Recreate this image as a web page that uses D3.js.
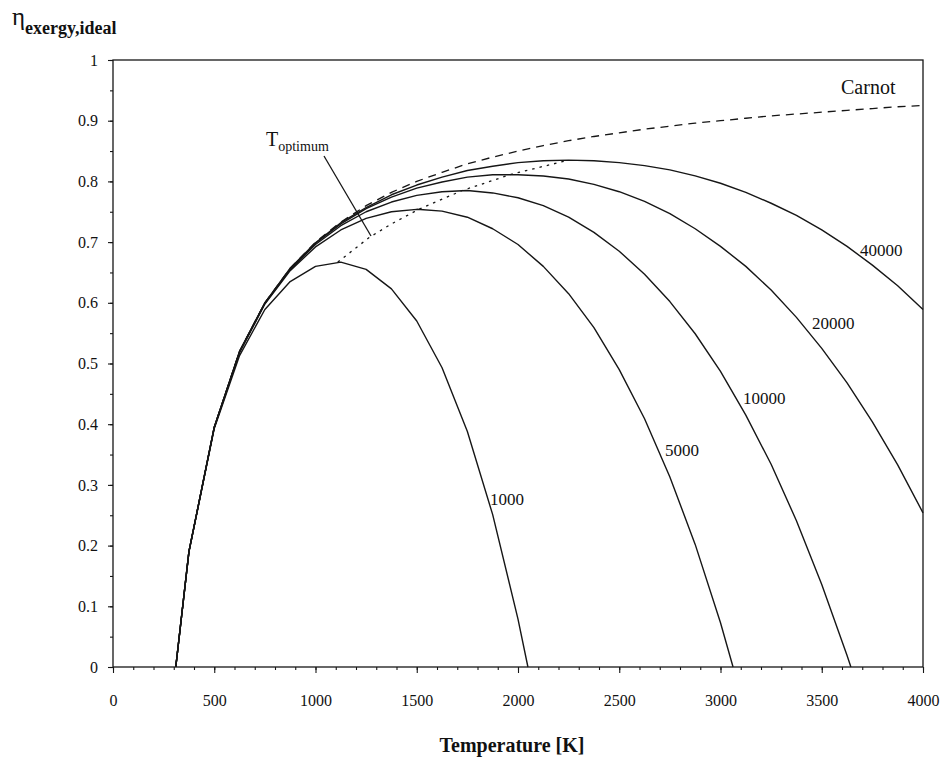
<!DOCTYPE html>
<html>
<head>
<meta charset="utf-8">
<script src="https://cdn.jsdelivr.net/npm/d3@7"></script>
<style>
  html, body { margin: 0; padding: 0; background: #fff; }
  svg { display: block; }
  text { font-family: "Liberation Serif", "Times New Roman", serif; fill: #111; }
</style>
</head>
<body>
<svg id="chart" width="942" height="765"></svg>
<script>
// Absorber temperature grid [K]
const tempsK = [310, 375, 500, 625, 750, 875, 1000, 1125, 1250, 1375, 1500, 1625, 1750, 1875,
  2000, 2125, 2250, 2375, 2500, 2625, 2750, 2875, 3000, 3125, 3250, 3375, 3500, 3625, 3750, 3875, 4000];

// Carnot limit
const etaCarnot = [0, 0.19, 0.395, 0.52, 0.6, 0.657, 0.7, 0.733, 0.76, 0.782, 0.8, 0.815, 0.829, 0.84,
  0.85, 0.859, 0.867, 0.874, 0.88, 0.886, 0.891, 0.896, 0.9, 0.904, 0.908, 0.911, 0.914, 0.917, 0.92, 0.923, 0.925];

// Ideal exergy efficiency for each concentration ratio (shorter arrays end before stagnation)
const concentrations = [1000, 5000, 10000, 20000, 40000];
const eta1000 = [0, 0.19, 0.393, 0.513, 0.589, 0.635, 0.66, 0.667, 0.655, 0.623, 0.57, 0.493, 0.388, 0.251,
  0.079];
const eta5000 = [0, 0.19, 0.394, 0.518, 0.598, 0.653, 0.692, 0.72, 0.739, 0.75, 0.754, 0.751, 0.741, 0.722,
  0.696, 0.66, 0.615, 0.559, 0.49, 0.409, 0.313, 0.202, 0.073];
const eta10000 = [0, 0.19, 0.395, 0.519, 0.599, 0.655, 0.696, 0.727, 0.75, 0.766, 0.777, 0.783, 0.785, 0.781,
  0.773, 0.76, 0.741, 0.716, 0.685, 0.647, 0.602, 0.549, 0.487, 0.415, 0.334, 0.241, 0.136, 0.019];
const eta20000 = [0, 0.19, 0.395, 0.52, 0.6, 0.656, 0.698, 0.73, 0.755, 0.774, 0.789, 0.799, 0.807, 0.811,
  0.811, 0.809, 0.804, 0.795, 0.783, 0.767, 0.747, 0.722, 0.693, 0.66, 0.621, 0.576, 0.525, 0.468, 0.404, 0.333, 0.254];
const eta40000 = [0, 0.19, 0.395, 0.52, 0.6, 0.657, 0.699, 0.732, 0.757, 0.778, 0.794, 0.807, 0.818, 0.825,
  0.831, 0.834, 0.835, 0.834, 0.831, 0.826, 0.819, 0.809, 0.797, 0.782, 0.764, 0.744, 0.72, 0.693, 0.662, 0.628, 0.589];
// Stagnation temperature (efficiency falls to zero) [K]
const stagnationK = [2049, 3062, 3644, null, null];

// Locus of optimum temperature
const optimumK = [1110, 1265, 1370, 1510, 1725, 1970, 2250];
const optimumEta = [0.667, 0.7075, 0.729, 0.754, 0.785, 0.812, 0.835];

// Axis ticks
const xMajor = [0, 500, 1000, 1500, 2000, 2500, 3000, 3500, 4000];
const yMajor = [0, 0.1, 0.2, 0.3, 0.4, 0.5, 0.6, 0.7, 0.8, 0.9, 1];

(function draw() {
  const svg = d3.select("#chart");
  svg.append("rect").attr("width", 942).attr("height", 765).attr("fill", "#fff");

  const plotL = 113, plotR = 923, plotT = 60, plotB = 667;
  const x = d3.scaleLinear().domain([0, 4000]).range([plotL, plotR]);
  const y = d3.scaleLinear().domain([0, 1]).range([plotB, plotT]);

  const ink = "#161616";
  const serif = '"Liberation Serif", "Times New Roman", serif';

  // Frame
  svg.append("rect")
    .attr("x", plotL).attr("y", plotT)
    .attr("width", plotR - plotL).attr("height", plotB - plotT)
    .attr("fill", "none").attr("stroke", ink).attr("stroke-width", 1.3);

  // X axis: minor every 100 K, major every 500 K
  const xMinor = d3.range(0, 4001, 100);
  svg.append("g").attr("transform", `translate(0,${plotB})`)
    .call(d3.axisBottom(x).tickValues(xMinor).tickSize(3).tickFormat(""))
    .call(g => g.select(".domain").remove())
    .call(g => g.selectAll("line").attr("stroke", ink).attr("stroke-width", 1.1));
  svg.append("g").attr("transform", `translate(0,${plotB})`)
    .call(d3.axisBottom(x).tickValues(xMajor).tickSize(6).tickPadding(22).tickFormat(d3.format("d")))
    .call(g => g.select(".domain").remove())
    .call(g => g.selectAll("line").attr("stroke", ink).attr("stroke-width", 1.1))
    .call(g => g.selectAll("text").attr("font-size", 16).attr("font-family", serif).attr("fill", ink));

  // Y axis: minor every 0.05, major every 0.1
  const yMinor = d3.range(0, 21).map(i => i * 0.05);
  svg.append("g").attr("transform", `translate(${plotL},0)`)
    .call(d3.axisLeft(y).tickValues(yMinor).tickSize(3).tickFormat(""))
    .call(g => g.select(".domain").remove())
    .call(g => g.selectAll("line").attr("stroke", ink).attr("stroke-width", 1.1));
  svg.append("g").attr("transform", `translate(${plotL},0)`)
    .call(d3.axisLeft(y).tickValues(yMajor).tickSize(5).tickPadding(10)
      .tickFormat(d => (d === 0 || d === 1) ? String(d) : d.toFixed(1)))
    .call(g => g.select(".domain").remove())
    .call(g => g.selectAll("line").attr("stroke", ink).attr("stroke-width", 1.1))
    .call(g => g.selectAll("text").attr("font-size", 16).attr("font-family", serif).attr("fill", ink));

  const line = d3.line().x(d => x(d[0])).y(d => y(d[1]));

  // Carnot limit (dashed)
  const carnotPts = tempsK.map((t, i) => [t, etaCarnot[i]]);
  svg.append("path").datum(carnotPts)
    .attr("d", line).attr("fill", "none")
    .attr("stroke", ink).attr("stroke-width", 1.3).attr("stroke-dasharray", "8,6");

  // Optimum-temperature locus (dotted)
  const optPts = optimumK.map((t, i) => [t, optimumEta[i]]);
  svg.append("path").datum(optPts)
    .attr("d", line).attr("fill", "none")
    .attr("stroke", ink).attr("stroke-width", 1.3).attr("stroke-dasharray", "2.5,5");

  // Efficiency curves per concentration ratio
  const etaSeries = [eta1000, eta5000, eta10000, eta20000, eta40000];
  etaSeries.forEach((vals, k) => {
    const pts = vals.map((v, i) => [tempsK[i], v]);
    if (stagnationK[k] !== null) pts.push([stagnationK[k], 0]);
    svg.append("path").datum(pts)
      .attr("d", line).attr("fill", "none")
      .attr("stroke", ink).attr("stroke-width", 1.4).attr("stroke-linejoin", "round");
  });

  // Curve labels
  const curveLabels = [
    { text: String(concentrations[0]), px: 490, py: 505 },
    { text: String(concentrations[1]), px: 665, py: 456 },
    { text: String(concentrations[2]), px: 743, py: 404 },
    { text: String(concentrations[3]), px: 812, py: 329 },
    { text: String(concentrations[4]), px: 860, py: 256 }
  ];
  svg.selectAll(".clabel").data(curveLabels).enter().append("text")
    .attr("class", "clabel")
    .attr("x", d => d.px).attr("y", d => d.py)
    .attr("font-size", 17).attr("font-family", serif)
    .text(d => d.text);

  svg.append("text").attr("x", 841).attr("y", 94)
    .attr("font-size", 20).attr("font-family", serif).text("Carnot");

  // T_optimum annotation with leader line
  const tOpt = svg.append("text").attr("x", 266).attr("y", 146).attr("font-family", serif);
  tOpt.append("tspan").attr("font-size", 20).text("T");
  tOpt.append("tspan").attr("font-size", 14).attr("dy", 5).text("optimum");
  svg.append("line")
    .attr("x1", 324).attr("y1", 156).attr("x2", 371).attr("y2", 236)
    .attr("stroke", ink).attr("stroke-width", 1.3);

  // Axis titles
  svg.append("text").attr("x", 512).attr("y", 752)
    .attr("text-anchor", "middle").attr("font-size", 20).attr("font-weight", "bold")
    .attr("font-family", serif).text("Temperature [K]");

  const yTitle = svg.append("text").attr("x", 12).attr("y", 25).attr("font-family", serif);
  yTitle.append("tspan").attr("font-size", 25).text("η");
  yTitle.append("tspan").attr("font-size", 18).attr("font-weight", "bold").attr("dy", 9).text("exergy,ideal");
})();
</script>
</body>
</html>
